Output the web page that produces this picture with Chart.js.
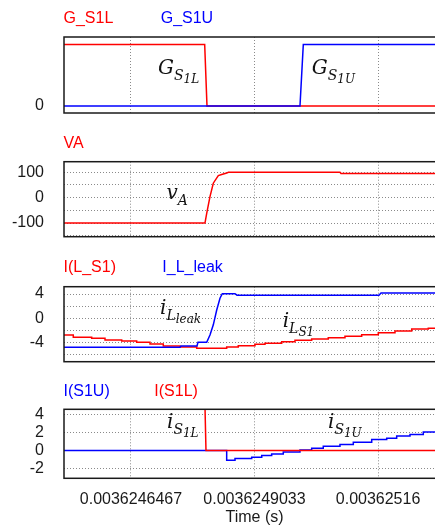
<!DOCTYPE html>
<html>
<head>
<meta charset="utf-8">
<script src="https://cdn.jsdelivr.net/npm/chart.js@4"></script>
<style>
  html, body { margin: 0; padding: 0; background: #fff; overflow: hidden; }
  #wrap { position: relative; width: 435px; height: 527px; overflow: hidden; }
  canvas { position: absolute; left: 0; }
</style>
</head>
<body>
<div id="wrap">
  <canvas id="p1" width="450" height="125" style="top:0px"></canvas>
  <canvas id="p2" width="450" height="125" style="top:125px"></canvas>
  <canvas id="p3" width="450" height="125" style="top:250px"></canvas>
  <canvas id="p4" width="450" height="152" style="top:375px"></canvas>
</div>
<script>
const RED = '#ff0000';
const BLUE = '#0000ff';

// Shared time axis (s)
const tMin = 0.0036245075;
const tMax = 0.0036252991;
const timeTicks = [0.0036246467, 0.0036249033, 0.00362516];

// Gate signals
const tGateL = [0.0036245075, 0.0036247998, 0.0036248046, 0.0036252991];
const gateL = [1, 1, 0, 0];
const tGateU = [0.0036245075, 0.0036249978, 0.0036250047, 0.0036252991];
const gateU = [0, 0, 1, 1];

// Node voltage VA
const tVA = [0.0036245075, 0.0036248004, 0.0036248040, 0.0036248108, 0.0036248177, 0.0036248281,
             0.0036248351, 0.0036248455, 0.0036248489, 0.0036250809, 0.0036250830, 0.0036252991];
const vA = [-100, -100, -62, 4, 57, 87, 91, 97, 100, 100, 95, 95];

// Leakage inductor current
const tLeak = [0.0036245075, 0.0036247485, 0.0036247506, 0.0036247838, 0.0036247859, 0.0036248040,
               0.0036248108, 0.0036248177, 0.0036248248, 0.0036248316, 0.0036248364, 0.0036248628,
               0.0036248669, 0.0036251620, 0.0036251661, 0.0036252991];
const iLeak = [-4.83, -4.83, -4.6, -4.6, -4.0, -4.0, -2.8, -1.1, 1.35, 3.3, 4.05, 4.05, 3.8, 3.8, 4.15, 4.15];

// Inductor L_S1 current (staircase)
const tLS1 = [0.0036245075, 0.0036245268, 0.0036245650, 0.0036245927, 0.0036246274, 0.0036246585,
              0.0036246862, 0.0036247138, 0.0036247485, 0.0036247832, 0.0036248455, 0.0036248696,
              0.0036249043, 0.0036249251, 0.0036249598, 0.0036249874, 0.0036250221, 0.0036250566,
              0.0036250913, 0.0036251260, 0.0036251605, 0.0036251952, 0.0036252299, 0.0036252644,
              0.0036252991];
const iLS1 = [-2.79, -3.17, -3.34, -3.62, -3.78, -4.0, -4.28, -4.61, -4.78, -5.0, -4.78, -4.56, -4.34,
              -4.17, -3.9, -3.67, -3.45, -3.23, -3.0, -2.73, -2.4, -2.13, -1.79, -1.69, -1.69];

// Switch currents
const tS1L = [0.0036245075, 0.0036248004, 0.0036248025, 0.0036252991];
const iS1L = [5, 5, 0, 0];
const tS1U = [0.0036245075, 0.0036248455, 0.0036248628, 0.0036248975, 0.0036249183, 0.0036249390,
              0.0036249631, 0.0036249978, 0.0036250221, 0.0036250462, 0.0036250809, 0.0036251086,
              0.0036251468, 0.0036251780, 0.0036251987, 0.0036252264, 0.0036252540, 0.0036252991];
const iS1U = [0, -1.10, -0.90, -0.76, -0.56, -0.38, -0.16, 0.07, 0.26, 0.49, 0.68, 0.94, 1.24, 1.39,
              1.62, 1.81, 2.07, 2.07];

const pts = (ts, vs) => ts.map((t, i) => ({ x: t, y: vs[i] }));

function line(label, ts, vs, color, stepped) {
  return {
    label: label, data: pts(ts, vs), borderColor: color, borderWidth: 1.5,
    pointRadius: 0, tension: 0, stepped: stepped || false, fill: false
  };
}

// italic symbol with subscript and sub-subscript
function mathLabel(ctx, x, y, base, sub, subsub) {
  ctx.save();
  ctx.fillStyle = '#111';
  ctx.textBaseline = 'alphabetic';
  ctx.textAlign = 'left';
  ctx.font = 'italic 20px "DejaVu Serif"';
  ctx.fillText(base, x, y);
  x += ctx.measureText(base).width;
  ctx.font = 'italic 14px "DejaVu Serif"';
  ctx.fillText(sub, x, y + 6);
  x += ctx.measureText(sub).width;
  if (subsub) {
    ctx.font = 'italic 12px "DejaVu Serif"';
    ctx.fillText(subsub, x, y + 9);
  }
  ctx.restore();
}

const framePlugin = {
  id: 'frame',
  afterDatasetsDraw(chart) {
    const a = chart.chartArea;
    const ctx = chart.ctx;
    ctx.save();
    ctx.strokeStyle = '#1a1a1a';
    ctx.lineWidth = 1.5;
    ctx.strokeRect(a.left, a.top, a.right - a.left, a.bottom - a.top);
    ctx.restore();
  },
  afterDraw(chart) {
    const o = chart.options.plugins.frame;
    const ctx = chart.ctx;
    ctx.save();
    ctx.font = '16px "Liberation Sans"';
    ctx.textBaseline = 'middle';
    ctx.textAlign = 'left';
    o.titles.forEach(t => { ctx.fillStyle = t[1]; ctx.fillText(t[0], t[2], o.titleY); });
    ctx.restore();
    o.notes.forEach(n => mathLabel(ctx, n[0], n[1], n[2], n[3], n[4]));
  }
};

const tickFont = { family: 'Liberation Sans', size: 16 };

function panel(id, p) {
  new Chart(document.getElementById(id), {
    type: 'line',
    data: { datasets: p.datasets },
    plugins: [framePlugin],
    options: {
      responsive: false,
      animation: false,
      events: [],
      layout: { padding: { top: p.top, right: 5, left: 0, bottom: 0 } },
      plugins: {
        legend: { display: false },
        tooltip: { enabled: false },
        frame: { titles: p.titles, titleY: p.titleY, notes: p.notes }
      },
      scales: {
        x: {
          type: 'linear', min: tMin, max: tMax,
          afterBuildTicks: s => { s.ticks = timeTicks.map(v => ({ value: v })); },
          afterFit: s => { s.height = p.bottom; s.paddingLeft = 0; s.paddingRight = 0; },
          grid: { display: true, color: '#8a8a8a', lineWidth: 1, drawTicks: false },
          border: { display: false, dash: [1, 2] },
          ticks: {
            display: !!p.showX, autoSkip: false, maxRotation: 0, padding: 11.5,
            font: tickFont, color: '#1a1a1a', callback: v => String(v)
          },
          title: {
            display: !!p.showX, text: 'Time (s)', font: tickFont, color: '#1a1a1a',
            padding: { top: 0, bottom: 0 }
          }
        },
        y: {
          min: p.yMin, max: p.yMax,
          afterBuildTicks: s => { s.ticks = p.yGrid.map(v => ({ value: v })); },
          afterFit: s => { s.width = 64; s.paddingTop = 0; s.paddingBottom = 0; },
          grid: { display: p.yGridOn, color: '#8a8a8a', lineWidth: 1, drawTicks: false },
          border: { display: false, dash: [1, 2] },
          ticks: {
            autoSkip: false, padding: 20, font: tickFont, color: '#1a1a1a',
            callback: v => p.yLabels.includes(v) ? String(v) : ''
          }
        }
      }
    }
  });
}

panel('p1', {
  top: 37, bottom: 12, yMin: -0.114, yMax: 1.122,
  yGrid: [0], yLabels: [0], yGridOn: false,
  datasets: [line('G_S1U', tGateU, gateU, BLUE), line('G_S1L', tGateL, gateL, RED)],
  titleY: 18.7,
  titles: [['G_S1L', RED, 63.5], ['G_S1U', BLUE, 160.7]],
  notes: [[158, 73.5, 'G', 'S', '1L'], [311.7, 73.5, 'G', 'S', '1U']]
});

panel('p2', {
  top: 36.7, bottom: 13.3, yMin: -154, yMax: 141.8,
  yGrid: [-150, -100, -50, 0, 50, 100], yLabels: [-100, 0, 100], yGridOn: true,
  datasets: [line('VA', tVA, vA, RED)],
  titleY: 18.3,
  titles: [['VA', RED, 63.5]],
  notes: [[166.5, 74, 'v', 'A']]
});

panel('p3', {
  top: 36.7, bottom: 13.3, yMin: -7.21, yMax: 5.21,
  yGrid: [-6, -4, -2, 0, 2, 4], yLabels: [-4, 0, 4], yGridOn: true,
  datasets: [line('I_L_leak', tLeak, iLeak, BLUE), line('I(L_S1)', tLS1, iLS1, RED, true)],
  titleY: 17.3,
  titles: [['I(L_S1)', RED, 63.5], ['I_L_leak', BLUE, 162.3]],
  notes: [[160, 64, 'i', 'L', 'leak'], [282.7, 76.7, 'i', 'L', 'S1']]
});

panel('p4', {
  top: 34.3, bottom: 48.7, yMin: -3.13, yMax: 4.64,
  yGrid: [-2, 0, 2, 4], yLabels: [-2, 0, 2, 4], yGridOn: true, showX: true,
  datasets: [line('I(S1L)', tS1L, iS1L, RED), line('I(S1U)', tS1U, iS1U, BLUE, true)],
  titleY: 16.7,
  titles: [['I(S1U)', BLUE, 63.5], ['I(S1L)', RED, 154.3]],
  notes: [[167, 53, 'i', 'S', '1L'], [328, 53, 'i', 'S', '1U']]
});
</script>
</body>
</html>
